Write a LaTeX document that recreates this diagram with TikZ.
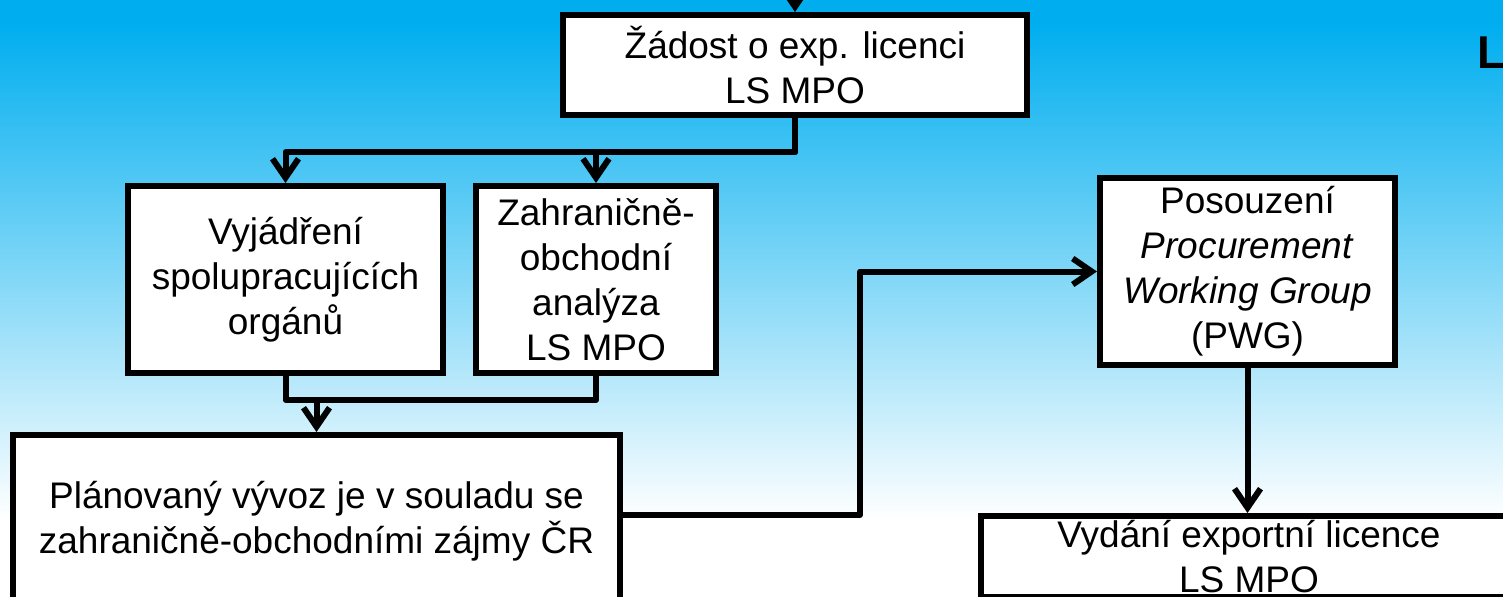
\documentclass[tikz,border=0pt]{standalone}
\usepackage{fontspec}
\setmainfont{Liberation Sans}
\usepackage{xcolor}
\usepackage{tikz}
\usetikzlibrary{arrows.meta}
\definecolor{skyblue}{HTML}{00AEEF}
\tikzstyle{process} = [rectangle, draw=black, fill=white, line width=3pt, text centered, align=center, inner sep=1pt, font=\fontsize{18.5}{22.5}\selectfont]
\tikzstyle{arrow} = [line width=3pt, line join=round, -{Straight Barb[length=9.5pt,width=13pt]}]
\tikzstyle{line} = [line width=3pt, line join=round]

\begin{document}
\begin{tikzpicture}[x=0.5pt, y=-0.5pt]
                        \clip (0,0) rectangle (1503,596);
                        \fill[skyblue] (0,0) rectangle (1503,24);
                        \shade[top color=skyblue, bottom color=white] (0,24) rectangle (1503,520);
                        \fill[white] (0,520) rectangle (1503,596);

                        \node (1) [process, minimum width=232pt, minimum height=50pt] at (795,65) {Žádost o exp. licenci\\LS MPO};
                        \node (2) [process, minimum width=157.5pt, minimum height=93.5pt] at (285.5,279.5) {Vyjádření\\spolupracujících\\orgánů};
                        \node (3) [process, minimum width=120pt, minimum height=93.5pt] at (596,279.5) {Zahraničně-\\obchodní\\analýza\\LS MPO};
                        \node (4) [process, minimum width=303.5pt, minimum height=86pt, anchor=north] at (316.5,432) {Plánovaný vývoz je v souladu se\\zahraničně-obchodními zájmy ČR};
                        \node (5) [process, minimum width=147.5pt, minimum height=93.5pt] at (1247.5,271.5) {Posouzení\\\textit{Procurement}\\\textit{Working Group}\\(PWG)};
                        \node (6) [process, minimum width=268pt, minimum height=40.5pt, anchor=north] at (1249,513) {Vydání exportní licence\\LS MPO};

                        \node (title) [anchor=base west, font=\fontsize{23}{23}\selectfont\bfseries] at (1470,68) {L};

                        \coordinate (0) at (795,-40);
                        \draw[arrow] (0) -- (1.north);

                        \draw[arrow] (1.south) -- ++(0,34) -| (2.north);
                        \draw[arrow] (1.south) -- ++(0,34) -| (3.north);

                        \draw[line] (2.south) -- ++(0,24) -| (3.south);
                        \draw[arrow] (4.north) ++(0,-32) -- (4.north);

                        \draw[arrow] (4.east |- 0,515) -- ++(237,0) |- (5.west);
                        \draw[arrow] (5.south) -- (5.south |- 6.north);

                    \end{tikzpicture}
\end{document}
